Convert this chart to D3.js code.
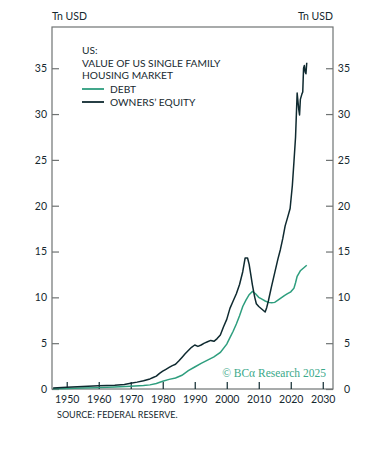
<!DOCTYPE html>
<html>
<head>
<meta charset="utf-8">
<script src="https://cdn.jsdelivr.net/npm/d3@7"></script>
<style>
  body { margin: 0; background: #fff; }
  text { font-family: Lato, "Open Sans", sans-serif; fill: #16292f; }
</style>
</head>
<body>
<svg id="chart" width="385" height="463"></svg>
<script>
// values (Tn USD)
let equityYears = [1945.75, 1950, 1955, 1960, 1965, 1968, 1970, 1972, 1974, 1976, 1977, 1978, 1979, 1980, 1981, 1982, 1983, 1984, 1985, 1986, 1987, 1988, 1989, 1990, 1991, 1992, 1993, 1994, 1995, 1996, 1997, 1998, 1999, 2000, 2001, 2002, 2003, 2004, 2005, 2005.75, 2006.5, 2007, 2007.5, 2008, 2008.75, 2009.25, 2010, 2011, 2012, 2012.5, 2013, 2014, 2015, 2016, 2016.75, 2017.5, 2018.25, 2019, 2019.8, 2020.5, 2021, 2021.5, 2022, 2022.5, 2022.75, 2023, 2023.5, 2023.75, 2024, 2024.25, 2024.5, 2024.75, 2025];
let equityValues = [0.12, 0.2, 0.28, 0.35, 0.42, 0.5, 0.62, 0.75, 0.9, 1.1, 1.25, 1.4, 1.7, 1.95, 2.15, 2.35, 2.55, 2.7, 3.05, 3.45, 3.85, 4.2, 4.55, 4.8, 4.65, 4.8, 5.0, 5.15, 5.3, 5.2, 5.5, 5.9, 6.8, 7.6, 8.8, 9.6, 10.4, 11.4, 12.8, 14.3, 14.3, 13.6, 12.5, 11.4, 10.0, 9.3, 9.0, 8.7, 8.4, 8.9, 9.6, 11.2, 12.7, 14.2, 15.2, 16.4, 17.8, 18.7, 19.7, 22.2, 24.8, 27.5, 32.3, 30.5, 29.9, 31.6, 32.2, 32.4, 35.0, 35.3, 34.6, 34.4, 35.6];

let debtYears = [1945.75, 1950, 1955, 1960, 1965, 1970, 1974, 1976, 1978, 1980, 1982, 1984, 1986, 1988, 1990, 1992, 1994, 1996, 1998, 2000, 2001, 2002, 2003, 2004, 2005, 2006, 2007, 2008, 2009, 2010, 2011, 2012, 2013, 2014, 2015, 2016, 2017, 2018, 2019, 2020, 2021, 2021.5, 2022, 2022.5, 2023, 2024, 2025];
let debtValues = [0.03, 0.06, 0.1, 0.15, 0.22, 0.3, 0.38, 0.45, 0.6, 0.85, 1.05, 1.2, 1.5, 2.0, 2.4, 2.8, 3.15, 3.5, 4.0, 4.9, 5.6, 6.3, 7.1, 8.0, 9.0, 9.7, 10.3, 10.65, 10.4, 10.0, 9.8, 9.6, 9.45, 9.4, 9.45, 9.7, 9.95, 10.2, 10.4, 10.6, 11.0, 11.6, 12.3, 12.6, 12.9, 13.2, 13.5];

let yTicks = [0, 5, 10, 15, 20, 25, 30, 35];
let xTicks = [1950, 1960, 1970, 1980, 1990, 2000, 2010, 2020, 2030];
let titleLines = ["US:", "VALUE OF US SINGLE FAMILY", "HOUSING MARKET"];
let seriesNames = ["DEBT", "OWNERS\u2019 EQUITY"];

let colors = { debt: "#2e9e7e", equity: "#0f2a30", axis: "#6f7373", brand: "#3aa98a" };
let plot = { left: 52, right: 333, top: 27, bottom: 389 };

let svg = d3.select("#chart");

let xScale = d3.scaleLinear()
    .domain([1945.4, 2033.2])
    .range([plot.left, plot.right]);

let yScale = d3.scaleLinear()
    .domain([0, 39.5])
    .range([plot.bottom, plot.top]);

// frame
svg.append("rect")
    .attr("x", plot.left).attr("y", plot.top)
    .attr("width", plot.right - plot.left)
    .attr("height", plot.bottom - plot.top)
    .attr("fill", "none")
    .attr("stroke", colors.axis)
    .attr("stroke-width", 1.2);

let styleAxis = function (g) {
    g.select(".domain").remove();
    g.selectAll(".tick line").attr("stroke", colors.axis).attr("stroke-width", 1.2);
    g.selectAll(".tick text").attr("font-size", 10.5).attr("fill", "#16292f");
};

svg.append("g")
    .attr("transform", `translate(${plot.left},0)`)
    .call(d3.axisLeft(yScale).tickValues(yTicks).tickSize(-7).tickPadding(5))
    .call(styleAxis);

svg.append("g")
    .attr("transform", `translate(${plot.right},0)`)
    .call(d3.axisRight(yScale).tickValues(yTicks).tickSize(-7).tickPadding(17))
    .call(styleAxis)
    .call(g => g.selectAll(".tick text").attr("text-anchor", "end"));

svg.append("g")
    .attr("transform", `translate(0,${plot.bottom})`)
    .call(d3.axisBottom(xScale).tickValues(xTicks).tickFormat(d3.format("d")).tickSize(-7).tickPadding(7))
    .call(styleAxis)
    .call(g => g.selectAll(".tick line").attr("stroke", colors.equity));

// unit labels
svg.append("text").attr("x", plot.left).attr("y", 20)
    .attr("font-size", 10.5).text("Tn USD");
svg.append("text").attr("x", plot.right).attr("y", 20)
    .attr("font-size", 10.5).attr("text-anchor", "end").text("Tn USD");

// lines
let debtData = debtYears.map((t, i) => ({ t: t, v: debtValues[i] }));
let equityData = equityYears.map((t, i) => ({ t: t, v: equityValues[i] }));

let lineGenerator = d3.line()
    .x(d => xScale(d.t))
    .y(d => yScale(d.v));

svg.append("path").datum(debtData)
    .attr("d", lineGenerator)
    .attr("fill", "none")
    .attr("stroke", colors.debt)
    .attr("stroke-width", 1.5);

svg.append("path").datum(equityData)
    .attr("d", lineGenerator)
    .attr("fill", "none")
    .attr("stroke", colors.equity)
    .attr("stroke-width", 1.5)
    .attr("stroke-linejoin", "round");

// legend
let legend = svg.append("g").attr("transform", "translate(82,0)");
legend.selectAll("text.title").data(titleLines).join("text")
    .attr("class", "title")
    .attr("x", 0)
    .attr("y", (d, i) => 54 + i * 12.5)
    .attr("font-size", 10.2)
    .text(d => d);

let legendColors = [colors.debt, colors.equity];
seriesNames.forEach(function (name, i) {
    let y = 89 + i * 13;
    legend.append("line")
        .attr("x1", 0).attr("x2", 22)
        .attr("y1", y).attr("y2", y)
        .attr("stroke", legendColors[i])
        .attr("stroke-width", 1.8);
    legend.append("text")
        .attr("x", 28).attr("y", y + 3.5)
        .attr("font-size", 10.2)
        .text(name);
});

// brand + source
svg.append("text")
    .attr("x", 326).attr("y", 377)
    .attr("text-anchor", "end")
    .attr("font-size", 11.5)
    .style("font-family", "'Liberation Serif', 'DejaVu Serif', serif")
    .style("fill", colors.brand)
    .text("\u00a9 BC\u03b1 Research 2025");

svg.append("text")
    .attr("x", 57).attr("y", 418)
    .attr("font-size", 9)
    .text("SOURCE: FEDERAL RESERVE.");
</script>
</body>
</html>
